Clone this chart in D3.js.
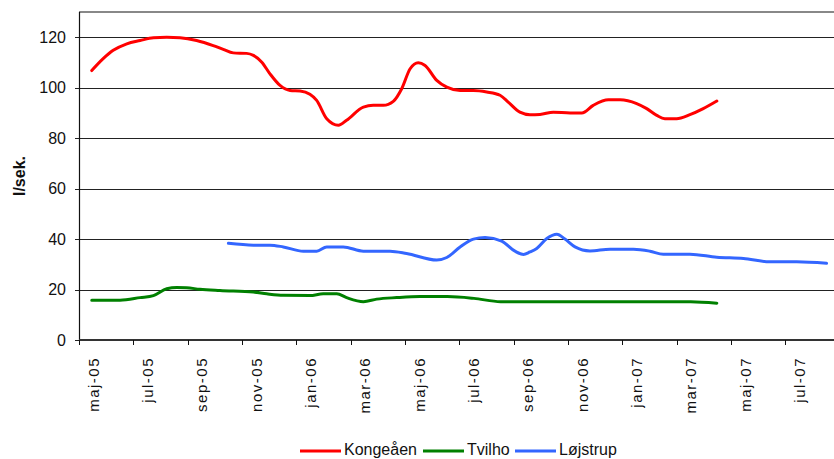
<!DOCTYPE html>
<html>
<head>
  <meta charset="utf-8">
  <title>Vandføring l/sek.</title>
  <style>
    body { margin: 0; background: #fff; }
    svg { display: block; font-family: Arial, "Liberation Sans", sans-serif; }
  </style>
</head>
<body>
<svg width="834" height="459"></svg>
<script src="https://cdn.jsdelivr.net/npm/d3@7"></script>
<script>
  // x values are months counted from 1 May 2005 (fractional)
  var monthLabels = ["maj-05", "jul-05", "sep-05", "nov-05", "jan-06", "mar-06", "maj-06",
    "jul-06", "sep-06", "nov-06", "jan-07", "mar-07", "maj-07", "jul-07"];
  var yTicks = [0, 20, 40, 60, 80, 100, 120];

  var kongeaaenT = [0.47, 0.89, 1.26, 1.76, 2.25, 2.74, 3.23, 3.72, 4.33, 4.94, 5.31, 5.68, 6.17, 6.42,
    6.73, 7.03, 7.40, 7.77, 8.14, 8.50, 8.75, 9.12, 9.55, 9.85, 10.47, 10.83, 11.20, 11.57, 11.88,
    12.19, 12.49, 12.74, 13.17, 13.54, 14.03, 14.52, 15.01, 15.50, 15.80, 16.23, 16.60, 16.97,
    17.46, 18.08, 18.51, 18.93, 19.49, 19.92, 20.53, 20.90, 21.27, 21.57, 22.00, 22.49, 22.98, 23.48];
  var kongeaaenV = [106.8, 111.5, 114.8, 117.4, 118.7, 119.8, 120.0, 119.8, 118.7, 116.7, 115.2, 113.8, 113.6, 112.8,
    110.1, 105.5, 100.9, 98.9, 98.7, 97.4, 95.0, 87.7, 85.1, 87.1, 92.3, 93.0, 93.0, 94.6, 99.6,
    107.5, 109.9, 108.8, 102.9, 100.2, 98.9, 98.9, 98.3, 97.0, 94.3, 90.3, 89.3, 89.4,
    90.3, 90.0, 90.0, 93.0, 95.2, 95.2, 93.7, 91.7, 89.0, 87.7, 87.7, 89.3, 91.7, 94.7];

  var tvilhoT = [0.47, 1.51, 2.25, 2.74, 3.23, 3.60, 3.96, 4.45, 5.19, 6.42, 6.91, 7.52, 8.50, 8.99,
    9.49, 9.85, 10.47, 10.96, 11.70, 12.55, 13.56, 14.54, 15.52, 16.97, 19.18, 22.52, 23.48];
  var tvilhoV = [15.8, 15.8, 16.8, 17.6, 20.3, 20.8, 20.7, 20.1, 19.6, 19.0, 18.3, 17.7, 17.6, 18.3,
    18.3, 16.8, 15.2, 16.2, 16.8, 17.2, 17.2, 16.5, 15.2, 15.2, 15.2, 15.2, 14.6];

  var loejstrupT = [5.50, 6.42, 7.03, 7.52, 8.26, 8.75, 9.12, 9.73, 10.47, 11.45, 12.06, 13.17, 13.54,
    14.03, 14.52, 14.95, 15.56, 16.05, 16.36, 16.60, 16.85, 17.22, 17.59, 17.89, 18.26, 18.81,
    19.55, 20.41, 21.02, 21.51, 22.49, 23.48, 24.46, 25.44, 26.42, 27.52];
  var loejstrupV = [38.3, 37.6, 37.6, 36.9, 35.2, 35.2, 36.9, 36.9, 35.2, 35.2, 34.3, 31.7, 32.7,
    36.9, 40.0, 40.6, 39.2, 35.2, 33.9, 34.9, 36.3, 40.2, 41.9, 40.0, 36.9, 35.3,
    36.0, 36.0, 35.2, 34.0, 34.0, 32.8, 32.3, 31.0, 31.0, 30.4];

  var seriesNames = ["Kongeåen", "Tvilho", "Løjstrup"];
  var seriesColors = ["#ff0000", "#008000", "#3366ff"];

  function zipSeries(t, v) {
    return t.map(function (d, i) { return { t: d, v: v[i] }; });
  }
  var series = [
    zipSeries(kongeaaenT, kongeaaenV),
    zipSeries(tvilhoT, tvilhoV),
    zipSeries(loejstrupT, loejstrupV)
  ];

  var svg = d3.select("svg");

  // plot runs past the right edge of the picture (28 months)
  var x = d3.scaleLinear().domain([0, 28]).range([79, 839.6]);
  var y = d3.scaleLinear().domain([0, 130]).range([340, 12]);

  // top border of plot area
  svg.append("line")
    .attr("x1", 79).attr("x2", 840)
    .attr("y1", y(130)).attr("y2", y(130))
    .attr("stroke", "#888").attr("stroke-width", 2);

  // horizontal grid + y axis
  var yAxis = svg.append("g")
    .attr("transform", "translate(79,0)")
    .call(d3.axisLeft(y).tickValues(yTicks).tickSize(4).tickPadding(9));
  yAxis.select(".domain").remove();
  yAxis.selectAll(".tick line").clone()
    .attr("x2", 761);
  yAxis.selectAll(".tick line")
    .attr("stroke", "#222").attr("shape-rendering", "crispEdges");
  yAxis.selectAll(".tick text")
    .attr("font-size", 16).attr("fill", "#111")
    .attr("font-family", "Arial, 'Liberation Sans', sans-serif");

  svg.append("line")
    .attr("x1", 79.5).attr("x2", 79.5)
    .attr("y1", y(130)).attr("y2", y(0) + 0.5)
    .attr("stroke", "#111").attr("stroke-width", 1.2);

  // x axis: ticks every 2 months
  var xAxis = svg.append("g")
    .attr("transform", "translate(0," + y(0) + ")")
    .call(d3.axisBottom(x).tickValues(d3.range(0, 28, 2)).tickSize(5).tickFormat(""));
  xAxis.select(".domain").attr("stroke", "#333").attr("stroke-width", 2).attr("d", "M79,0H840");
  xAxis.selectAll(".tick line").attr("stroke", "#111").attr("shape-rendering", "crispEdges");

  // month labels, centred on the first month of each pair
  svg.append("g")
    .selectAll("text")
    .data(monthLabels)
    .enter().append("text")
    .attr("transform", function (d, i) { return "translate(" + (x(i * 2 + 0.5) + 1) + ",357) rotate(-90)"; })
    .attr("text-anchor", "end")
    .attr("dy", "0.35em")
    .attr("font-size", 15)
    .attr("letter-spacing", 1.5)
    .attr("fill", "#111")
    .text(function (d) { return d; });

  // y label
  svg.append("text")
    .attr("transform", "translate(19,176) rotate(-90)")
    .attr("text-anchor", "middle")
    .attr("dy", "0.35em")
    .attr("font-size", 16)
    .attr("font-weight", "bold")
    .attr("fill", "#111")
    .text("l/sek.");

  // lines
  var line = d3.line()
    .x(function (d) { return x(d.t); })
    .y(function (d) { return y(d.v); })
    .curve(d3.curveMonotoneX);

  svg.append("g")
    .selectAll("path")
    .data(series)
    .enter().append("path")
    .attr("fill", "none")
    .attr("stroke", function (d, i) { return seriesColors[i]; })
    .attr("stroke-width", 3)
    .attr("stroke-linejoin", "round")
    .attr("stroke-linecap", "round")
    .attr("d", line);

  // legend
  var legendX = [300, 423, 515];
  var legend = svg.append("g")
    .selectAll("g")
    .data(seriesNames)
    .enter().append("g")
    .attr("transform", function (d, i) { return "translate(" + legendX[i] + ",451)"; });

  legend.append("line")
    .attr("x1", 0).attr("x2", 41)
    .attr("stroke", function (d, i) { return seriesColors[i]; })
    .attr("stroke-width", 3);

  legend.append("text")
    .attr("x", 44)
    .attr("y", 3.5)
    .attr("font-size", 16)
    .attr("fill", "#111")
    .text(function (d) { return d; });
</script>
</body>
</html>
